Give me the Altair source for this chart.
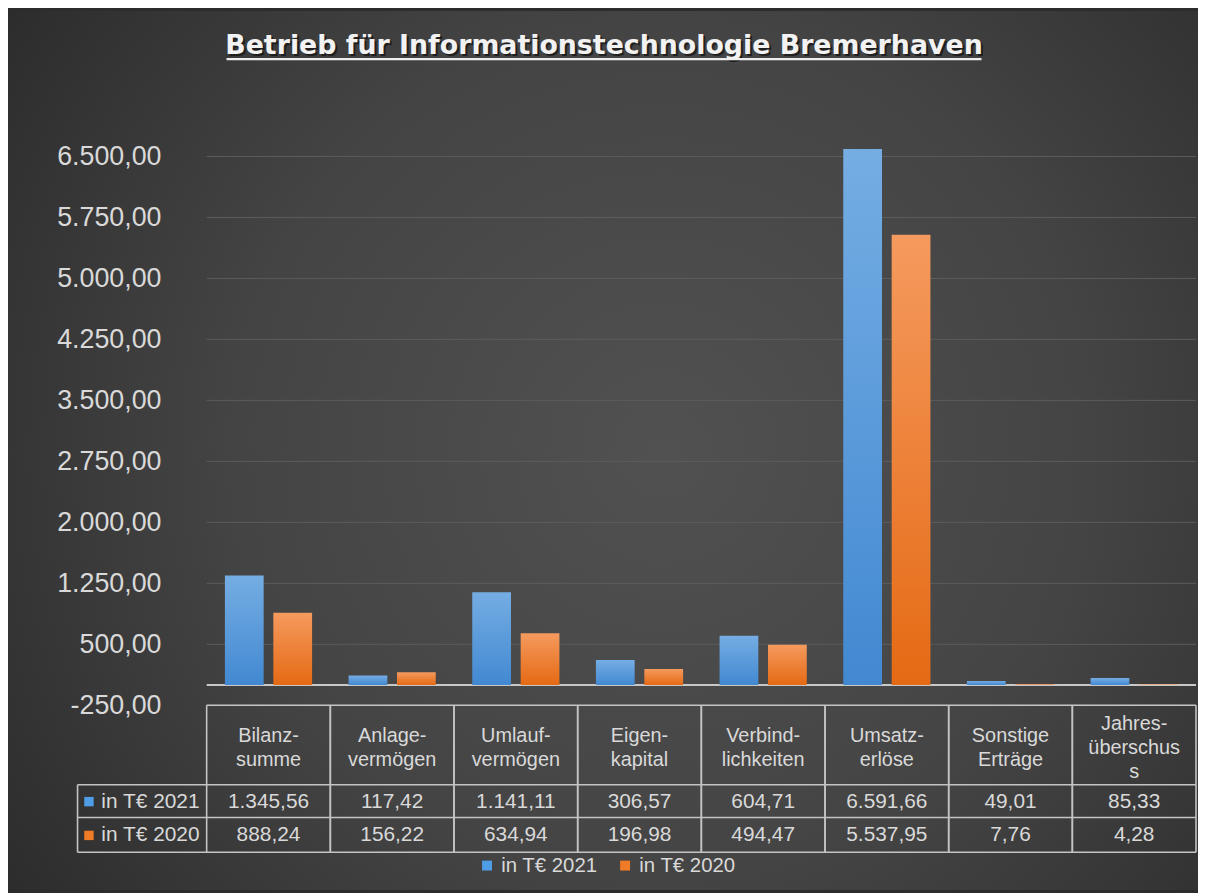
import altair as alt
import pandas as pd

TITLE = "Betrieb für Informationstechnologie Bremerhaven"
categories = ["Bilanz-\nsumme", "Anlage-\nvermögen", "Umlauf-\nvermögen", "Eigen-\nkapital",
              "Verbind-\nlichkeiten", "Umsatz-\nerlöse", "Sonstige\nErträge", "Jahres-\nüberschus\ns"]
series_names = ["in T€ 2021", "in T€ 2020"]
values_2021 = [1345.56, 117.42, 1141.11, 306.57, 604.71, 6591.66, 49.01, 85.33]
values_2020 = [888.24, 156.22, 634.94, 196.98, 494.47, 5537.95, 7.76, 4.28]
y_ticks = [-250, 500, 1250, 2000, 2750, 3500, 4250, 5000, 5750, 6500]
y_domain = [-250, 6750]

# ---- tables built from the arrays ----
rows = []
for s, vals in zip(series_names, [values_2021, values_2020]):
    for c, v in zip(categories, vals):
        rows.append({"cat": c, "series": s, "value": v})
df = pd.DataFrame(rows)
cat_df = pd.DataFrame({"cat": categories})
tick_df = pd.DataFrame({"v": y_ticks})
ser_df = pd.DataFrame({"series": series_names})
one = pd.DataFrame({"title": [TITLE]})

# ---- layout ----
W, H = 996, 573
PAD = {"left": 200, "top": 126, "right": 2, "bottom": 186}
PI = 0.295
STEP = W / len(categories)
EDGE = PI / 2 * STEP
TXT = "#d9d9d9"
LINE = "#c4c4c4"
FONT = "Liberation Sans"
BLUE = "#4f9de6"
ORANGE = "#f07b26"

xscale = alt.Scale(domain=categories, paddingInner=PI, paddingOuter=PI / 2)
yscale = alt.Scale(domain=y_domain, nice=False, zero=False)
yaxis = alt.Axis(values=y_ticks, format=",.2f", title=None, grid=False, ticks=False,
                 domain=False, labelFont=FONT, labelFontSize=27, labelColor=TXT,
                 labelPadding=46, zindex=1, labelOverlap=False, labelFlush=False)

def X(**kw):
    return alt.X("cat:N", sort=categories, scale=xscale, axis=None, **kw)

bg = alt.Chart(one).mark_rect(
    color={"gradient": "radial", "x1": 0.55, "y1": 0.5, "r1": 0,
           "x2": 0.55, "y2": 0.5, "r2": 0.72,
           "stops": [{"offset": 0, "color": "#515151"},
                     {"offset": 0.5, "color": "#444444"},
                     {"offset": 1, "color": "#282828"}]}
).encode(x=alt.value(-PAD["left"]), x2=alt.value(W + PAD["right"]),
         y=alt.value(-PAD["top"]), y2=alt.value(H + PAD["bottom"]))

grid = alt.Chart(tick_df).mark_rule(color="#5d5d5d", strokeWidth=1).encode(
    y=alt.Y("v:Q", scale=yscale, axis=yaxis))

zero = alt.Chart(one).mark_rule(color="#c8c8c8", strokeWidth=2).encode(y=alt.datum(0))

def bars(name, top, bottom):
    return alt.Chart(df).transform_filter(alt.datum.series == name).mark_bar(
        color={"gradient": "linear", "x1": 0, "y1": 0, "x2": 0, "y2": 1,
               "stops": [{"offset": 0, "color": top}, {"offset": 1, "color": bottom}]}
    ).encode(
        x=X(),
        xOffset=alt.XOffset("series:N", sort=series_names,
                            scale=alt.Scale(domain=series_names, paddingInner=0.2, paddingOuter=0)),
        y=alt.Y("value:Q", scale=yscale, axis=yaxis),
    )

bars21 = bars(series_names[0], "#75ade3", "#4289d2")
bars20 = bars(series_names[1], "#f59a5e", "#e56a14")

# table lines
Y_TOP = H              # 707 abs
Y_R1 = H + 80          # 787
Y_R2 = H + 113         # 820
Y_R3 = H + 148         # 855
X_LBL = -130           # 78 abs
hlines = []
for yv, xs in [(Y_TOP, 0), (Y_R1, X_LBL), (Y_R2, X_LBL), (Y_R3, X_LBL)]:
    hlines.append(alt.Chart(one).mark_rule(color=LINE, strokeWidth=1.6).encode(
        x=alt.value(xs), x2=alt.value(W), y=alt.value(yv)))
vl = alt.Chart(cat_df).mark_rule(color=LINE, strokeWidth=1.6, xOffset=-EDGE).encode(
    x=X(bandPosition=0), y=alt.value(Y_TOP), y2=alt.value(Y_R3))
vr = alt.Chart(cat_df).mark_rule(color=LINE, strokeWidth=1.6, xOffset=EDGE).encode(
    x=X(bandPosition=1), y=alt.value(Y_TOP), y2=alt.value(Y_R3))
vlab = alt.Chart(one).mark_rule(color=LINE, strokeWidth=1.6).encode(
    x=alt.value(X_LBL), y=alt.value(Y_R1), y2=alt.value(Y_R3))

LH = 24
HEAD_MID = (Y_TOP + Y_R1) / 2 + 3
def header_layer(nlines):
    return alt.Chart(cat_df).transform_filter(
        f'length(split(datum.cat, "\\n")) == {nlines}'
    ).mark_text(
        font=FONT, fontSize=20, color=TXT, lineBreak="\n", lineHeight=LH,
        align="center", baseline="middle").encode(
        x=X(bandPosition=0.5), y=alt.value(HEAD_MID - (nlines - 1) * LH / 2), text="cat:N")

def row_values(name, yv):
    return alt.Chart(df).transform_filter(alt.datum.series == name).mark_text(
        font=FONT, fontSize=21, color=TXT, align="center", baseline="middle").encode(
        x=X(bandPosition=0.5), y=alt.value(yv), text=alt.Text("value:Q", format=",.2f"))

row_y = [(Y_R1 + Y_R2) / 2 + 0.5, (Y_R2 + Y_R3) / 2 + 0.5]
legend = alt.Legend(orient="none", legendX=272, legendY=H + 151, direction="horizontal",
                    title=None, symbolType="square", symbolSize=100, symbolStrokeWidth=0,
                    labelFont=FONT, labelFontSize=20.5, labelColor=TXT, labelOffset=4,
                    columnPadding=17, padding=0)
color = alt.Color("series:N", scale=alt.Scale(domain=series_names, range=[BLUE, ORANGE]),
                  legend=legend)

def row_label(name, yv):
    sq = alt.Chart(ser_df).transform_filter(alt.datum.series == name).mark_square(
        size=90, filled=True, opacity=1).encode(x=alt.value(-118.5), y=alt.value(yv), color=color)
    tx = alt.Chart(ser_df).transform_filter(alt.datum.series == name).mark_text(
        font=FONT, fontSize=21, color=TXT, align="left", baseline="middle").encode(
        x=alt.value(-106), y=alt.value(yv), text="series:N")
    return [sq, tx]

TX, TY = 400, -83
title_shadow = alt.Chart(one).mark_text(
    font="DejaVu Sans", fontWeight="bold", fontSize=27, color="#111111", opacity=0.7,
    align="center", baseline="alphabetic").encode(
    x=alt.value(TX + 2), y=alt.value(TY + 2), text="title:N")
title = alt.Chart(one).mark_text(
    font="DejaVu Sans", fontWeight="bold", fontSize=27, color="#f2f2f2",
    align="center", baseline="alphabetic").encode(
    x=alt.value(TX), y=alt.value(TY), text="title:N")
underline = alt.Chart(one).mark_rule(color="#eeeeee", strokeWidth=2.5).encode(
    x=alt.value(20), x2=alt.value(780), y=alt.value(-77.5))

layers = [bg, grid, zero, bars21, bars20] + hlines + [vl, vr, vlab,
          header_layer(2), header_layer(3),
          row_values(series_names[0], row_y[0]), row_values(series_names[1], row_y[1])]
layers += row_label(series_names[0], row_y[0]) + row_label(series_names[1], row_y[1])
layers += [title_shadow, title, underline]

chart = alt.layer(*layers).properties(
    width=W, height=H, padding=PAD, autosize=alt.AutoSizeParams(type="none")
).configure(
    background="#2c2c2c",
    locale={"number": {"decimal": ",", "thousands": ".", "grouping": [3],
                       "currency": ["", " €"], "minus": "-"}},
).configure_view(stroke=None)

chart.save("out.html", embed_options={"renderer": "svg", "actions": False})
